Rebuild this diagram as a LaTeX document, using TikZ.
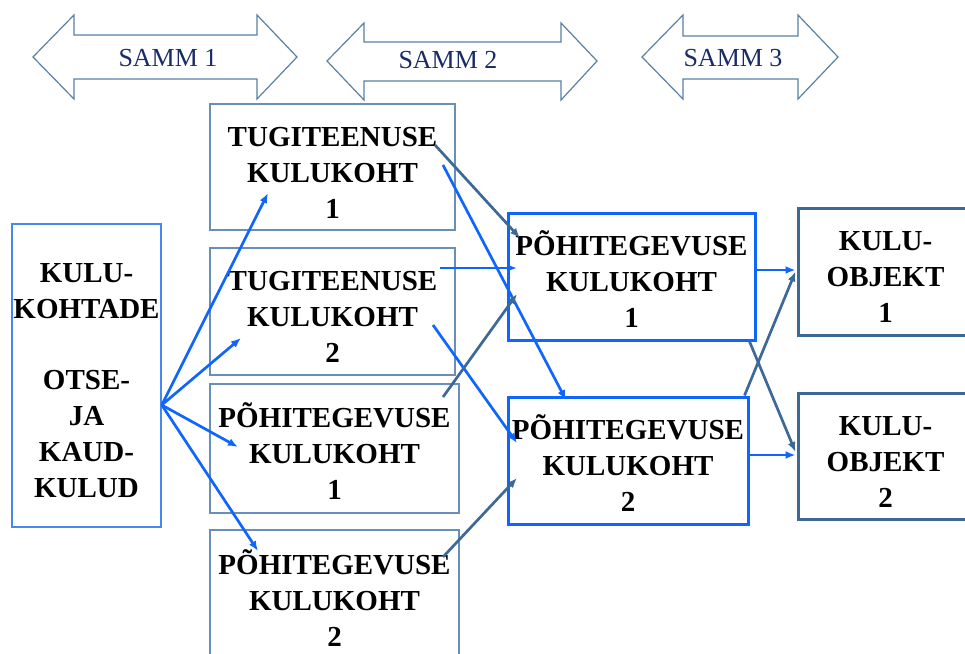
\documentclass[tikz,border=0pt]{standalone}
\usepackage{fontspec}
\setmainfont{Liberation Serif}
\usepackage{tikz,xcolor}
\usetikzlibrary{calc,arrows.meta}
\definecolor{brblue}{RGB}{16,102,250}
\definecolor{stblue}{RGB}{60,105,150}
\definecolor{thinbox}{RGB}{105,142,185}
\definecolor{srcbox}{RGB}{70,135,240}
\definecolor{navy}{RGB}{25,45,100}
\newcommand\topline{\rule{0pt}{30pt}}

\begin{document}
\begin{tikzpicture}[x=1pt,y=-1pt,
		box/.style={draw=thinbox, line width=1.5pt, inner sep=0pt, align=center, font=\bfseries\fontsize{29}{36}\selectfont},
		mainbox/.style={box, draw=brblue, line width=3pt},
		objbox/.style={box, draw=stblue, line width=3pt},
		samm/.style={text=navy, font=\fontsize{26}{28}\selectfont},
		sammline/.style={draw=stblue!85, line width=1.2pt},
		fl/.style={brblue, line width=2.7pt, -{Latex[length=10pt,width=8pt]}},
		sf/.style={stblue, line width=2.7pt, -{Latex[length=10pt,width=8pt]}}]
	\useasboundingbox (0,0) rectangle (965,653);
	\draw[sammline] (33,57) -- (74,15) -- (74,35) -- (257,35) -- (257,15) -- (297,57) -- (257,99) -- (257,79) -- (74,79) -- (74,99) -- cycle;
	\draw[sammline] (327,61) -- (364,23) -- (364,42) -- (561,42) -- (561,23) -- (597,61) -- (561,100) -- (561,81) -- (364,81) -- (364,100) -- cycle;
	\draw[sammline] (642,57) -- (683,15) -- (683,36) -- (798,36) -- (798,15) -- (838,57) -- (798,99) -- (798,79) -- (683,79) -- (683,99) -- cycle;
	\node[samm] (s1) at (168,58) {SAMM 1};
	\node[samm] (s2) at (448,60) {SAMM 2};
	\node[samm] (s3) at (733,58) {SAMM 3};
	\node[box, draw=srcbox, minimum width=149, minimum height=303] (src) at (86.5,375.5) {\topline KULU-\\KOHTADE\\[35pt]OTSE-\\JA\\KAUD-\\KULUD};
	\node[box, minimum width=245, minimum height=126] (tk1) at (332.5,167) {\topline TUGITEENUSE\\KULUKOHT\\1};
	\node[box, minimum width=245, minimum height=127] (tk2) at (332.5,311.5) {\topline TUGITEENUSE\\KULUKOHT\\2};
	\node[box, minimum width=249, minimum height=129] (pl1) at (334.5,448.5) {\topline PÕHITEGEVUSE\\KULUKOHT\\1};
	\node[box, minimum width=249, minimum height=130] (pl2) at (334.5,595) {\topline PÕHITEGEVUSE\\KULUKOHT\\2};
	\node[mainbox, minimum width=247, minimum height=127] (pm1) at (631.5,276.5) {\topline PÕHITEGEVUSE\\KULUKOHT\\1};
	\node[mainbox, minimum width=240, minimum height=127] (pm2) at (628,460.5) {\topline PÕHITEGEVUSE\\KULUKOHT\\2};
	\node[objbox, minimum width=175, minimum height=127] (ko1) at (885.5,271.5) {\topline KULU-\\OBJEKT\\1};
	\node[objbox, minimum width=175, minimum height=126] (ko2) at (885.5,456) {\topline KULU-\\OBJEKT\\2};
	\coordinate (fork) at ($(src.east)+(0,29.5)$);
	\draw[fl] (fork) -- ($(tk1.center)+(-64.5,26)$);
	\draw[fl] (fork) -- ($(tk2.center)+(-91.5,26.5)$);
	\draw[fl] (fork) -- ($(pl1.center)+(-96.5,-1.5)$);
	\draw[fl] (fork) -- ($(pl2.center)+(-76.5,-44)$);
	\draw[sf] ($(tk1.center)+(102.5,-22)$) -- ($(pm1.center)+(-111.5,-38.5)$);
	\draw[fl] ($(tk1.center)+(110.5,-2)$) -- ($(pm2.center)+(-62,-60.5)$);
	\draw[fl] ($(tk2.center)+(107.5,-43.5)$) -- ($(pm1.center)+(-114.5,-8.5)$);
	\draw[fl] ($(tk2.center)+(100.5,13.5)$) -- ($(pm2.center)+(-111,-17.5)$);
	\draw[sf] ($(pl1.center)+(108.5,-51.5)$) -- ($(pm1.center)+(-114.5,17.5)$);
	\draw[sf] ($(pl2.center)+(108.5,-38)$) -- ($(pm2.center)+(-111,17.5)$);
	\draw[fl] ($(pm1.east)+(0,-6.5)$) -- ($(ko1.west)+(-1,-1.5)$);
	\draw[fl] ($(pm2.east)+(0,-5.5)$) -- ($(ko2.west)+(-1,-1)$);
	\draw[sf] ($(pm2.north east)+(-5,0)$) -- ($(ko1.west)+(-1,0)$);
	\draw[sf] ($(pm1.south east)+(-7,0)$) -- ($(ko2.west)+(-1,-4)$);
\end{tikzpicture}
\end{document}
